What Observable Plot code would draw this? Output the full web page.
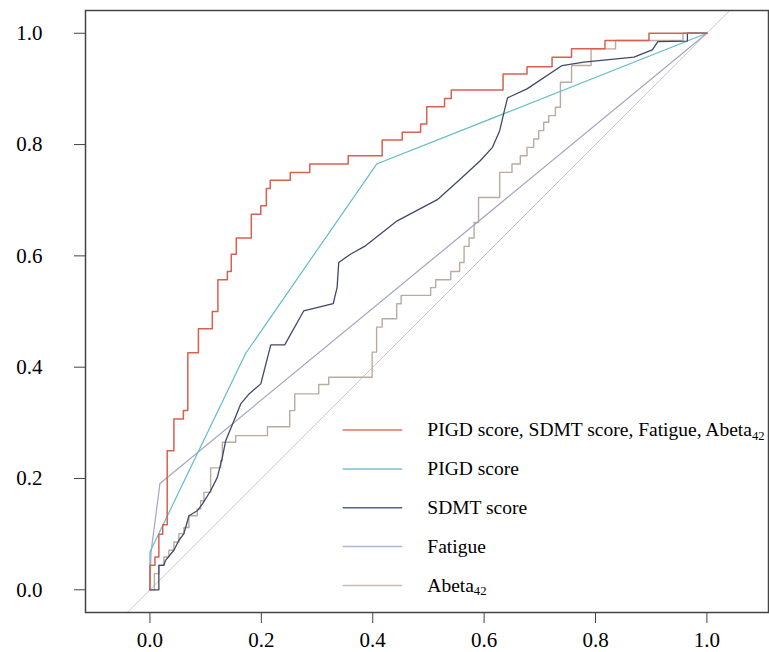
<!DOCTYPE html>
<html>
<head>
<meta charset="utf-8">
<script src="https://cdn.jsdelivr.net/npm/d3@7"></script>
<script src="https://cdn.jsdelivr.net/npm/@observablehq/plot@0.6"></script>
<style>
  html, body { margin: 0; padding: 0; background: #fff; }
</style>
</head>
<body>
<div id="chart"></div>
<script>
// ---- tick labels ----
const xTicks = [0, 0.2, 0.4, 0.6, 0.8, 1.0];
const yTicks = [0, 0.2, 0.4, 0.6, 0.8, 1.0];

// ---- series (1 - specificity, sensitivity) ----
// combined model (step curve: points at top of each riser)
const comboFPR = [0, 0, 0.009, 0.016, 0.023, 0.031, 0.043, 0.060, 0.068, 0.087, 0.112, 0.122, 0.139, 0.146, 0.155, 0.182, 0.199, 0.209, 0.216, 0.252, 0.287, 0.356, 0.417, 0.453, 0.486, 0.497, 0.529, 0.541, 0.634, 0.677, 0.722, 0.757, 0.817, 0.896, 1.0];
const comboTPR = [0, 0.044, 0.059, 0.100, 0.117, 0.250, 0.307, 0.322, 0.426, 0.469, 0.500, 0.557, 0.572, 0.603, 0.632, 0.675, 0.690, 0.721, 0.736, 0.750, 0.765, 0.780, 0.808, 0.822, 0.837, 0.868, 0.883, 0.898, 0.927, 0.940, 0.957, 0.972, 0.987, 1.0, 1.0];

// PIGD score (polyline)
const pigdFPR = [0, 0, 0.172, 0.407, 1.0];
const pigdTPR = [0, 0.068, 0.425, 0.765, 1.0];

// SDMT score (polyline)
const sdmtFPR = [0, 0.016, 0.016, 0.025, 0.028, 0.043, 0.052, 0.061, 0.070, 0.085, 0.094, 0.109, 0.121, 0.130, 0.136, 0.151, 0.163, 0.178, 0.199, 0.217, 0.242, 0.276, 0.329, 0.336, 0.339, 0.360, 0.387, 0.444, 0.516, 0.554, 0.593, 0.615, 0.628, 0.635, 0.642, 0.677, 0.740, 0.779, 0.869, 0.902, 0.912, 0.965, 0.965, 1.0];
const sdmtTPR = [0, 0, 0.044, 0.044, 0.053, 0.071, 0.089, 0.101, 0.133, 0.142, 0.154, 0.178, 0.202, 0.238, 0.268, 0.304, 0.334, 0.352, 0.370, 0.440, 0.440, 0.501, 0.514, 0.543, 0.588, 0.603, 0.618, 0.663, 0.701, 0.735, 0.771, 0.795, 0.825, 0.855, 0.884, 0.900, 0.942, 0.948, 0.957, 0.970, 0.985, 0.986, 1.0, 1.0];

// Fatigue (polyline)
const fatigueFPR = [0, 0.002, 0.018, 1.0];
const fatigueTPR = [0, 0.068, 0.191, 1.0];

// Abeta42 (step curve: points at top of each riser)
const abetaFPR = [0, 0.008, 0.016, 0.025, 0.034, 0.043, 0.052, 0.061, 0.070, 0.085, 0.091, 0.097, 0.109, 0.127, 0.130, 0.154, 0.211, 0.251, 0.260, 0.303, 0.321, 0.399, 0.407, 0.417, 0.443, 0.451, 0.504, 0.513, 0.540, 0.556, 0.564, 0.573, 0.582, 0.590, 0.628, 0.650, 0.665, 0.677, 0.689, 0.698, 0.707, 0.716, 0.728, 0.737, 0.757, 0.792, 0.836, 0.957, 1.0];
const abetaTPR = [0, 0.029, 0.044, 0.059, 0.071, 0.086, 0.101, 0.112, 0.133, 0.145, 0.160, 0.175, 0.219, 0.232, 0.265, 0.277, 0.293, 0.322, 0.352, 0.369, 0.382, 0.427, 0.472, 0.487, 0.514, 0.529, 0.543, 0.557, 0.572, 0.588, 0.617, 0.632, 0.660, 0.705, 0.750, 0.765, 0.780, 0.795, 0.810, 0.825, 0.840, 0.852, 0.867, 0.912, 0.942, 0.972, 0.987, 1.0, 1.0];

// ---- legend ----
const legendLabels = ["PIGD score, SDMT score, Fatigue, Abeta42", "PIGD score", "SDMT score", "Fatigue", "Abeta42"];
const legendColors = ["#e5735e", "#74c6cd", "#52618a", "#b0b3d2", "#cbbcb2"];
const curveColors = {combo: "#d9604f", pigd: "#62bcc6", sdmt: "#3f4a68", fatigue: "#a3a5c2", abeta: "#b9ab9f"};

const toPts = (xs, ys) => xs.map((x, i) => ({x, y: ys[i]}));

const xDomain = [-0.1157, 1.1106];
const yDomain = [-0.0408, 1.0409];
const refLine = toPts(xDomain.map(v => v - 0.1), xDomain.map(v => v - 0.1)).concat(toPts([1.3], [1.3]));

const legendData = legendLabels.map((label, i) => ({
  label, color: legendColors[i],
  x1: 0.346, x2: 0.453, xt: 0.498,
  y: 0.287 - i * 0.0698
}));

const serif = "'Liberation Serif', 'Times New Roman', serif";

const chart = Plot.plot({
  width: 769,
  height: 652,
  marginLeft: 85,
  marginRight: 1,
  marginTop: 10,
  marginBottom: 40,
  style: {fontFamily: serif, fontSize: "21px", color: "#000", background: "#fff"},
  x: {domain: xDomain, ticks: xTicks, tickFormat: d3.format(".1f"), tickSize: 11, tickPadding: 9, label: null},
  y: {domain: yDomain, ticks: yTicks, tickFormat: d3.format(".1f"), tickSize: 11, tickPadding: 32, label: null},
  marks: [
    Plot.line(refLine, {x: "x", y: "y", stroke: "#c9c9c9", strokeWidth: 1, clip: true}),
    Plot.line(toPts(abetaFPR, abetaTPR), {x: "x", y: "y", curve: "step-after", stroke: curveColors.abeta, strokeWidth: 1.4}),
    Plot.line(toPts(fatigueFPR, fatigueTPR), {x: "x", y: "y", stroke: curveColors.fatigue, strokeWidth: 1.2}),
    Plot.line(toPts(pigdFPR, pigdTPR), {x: "x", y: "y", stroke: curveColors.pigd, strokeWidth: 1.2}),
    Plot.line(toPts(sdmtFPR, sdmtTPR), {x: "x", y: "y", stroke: curveColors.sdmt, strokeWidth: 1.3}),
    Plot.line(toPts(comboFPR, comboTPR), {x: "x", y: "y", curve: "step-after", stroke: curveColors.combo, strokeWidth: 1.5}),
    Plot.link(legendData, {x1: "x1", x2: "x2", y1: "y", y2: "y", stroke: "color", strokeWidth: 1.5}),
    Plot.text(legendData, {x: "xt", y: "y", text: "label", textAnchor: "start", fontSize: 19.5, fontFamily: serif, fill: "#000"}),
    Plot.frame({stroke: "#444", strokeWidth: 1.5})
  ]
});

// subscript "42"
d3.select(chart).selectAll("text").each(function () {
  const t = this.textContent;
  if (t.endsWith("Abeta42")) {
    this.textContent = t.slice(0, -2);
    d3.select(this).append("tspan").attr("dy", "0.3em").attr("font-size", "0.65em").text("42");
  }
});
d3.select(chart).selectAll("g[aria-label='x-axis tick'] path, g[aria-label='y-axis tick'] path").attr("stroke", "#444");
d3.select(chart).selectAll("g[aria-label='x-axis tick label'], g[aria-label='y-axis tick label']").attr("font-family", serif);

document.getElementById("chart").appendChild(chart);
</script>
</body>
</html>
